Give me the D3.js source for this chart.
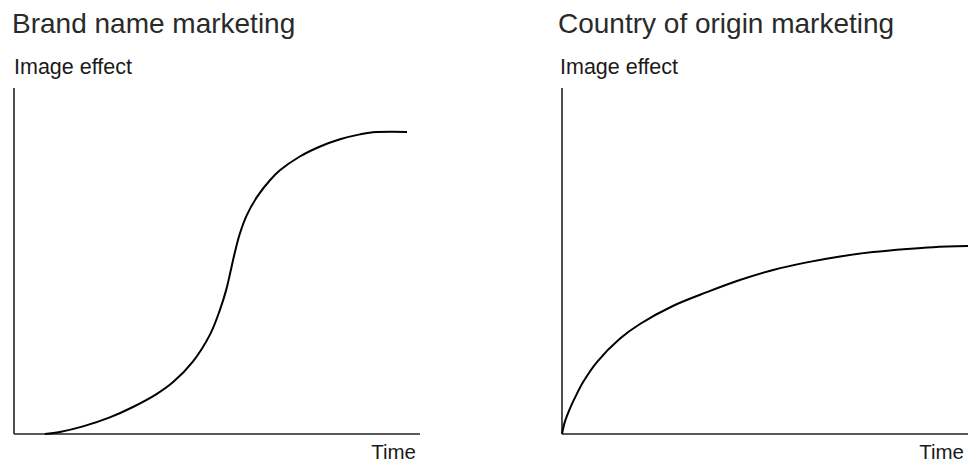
<!DOCTYPE html>
<html>
<head>
<meta charset="utf-8">
<script src="https://cdn.jsdelivr.net/npm/d3@7"></script>
<style>
  html, body { margin: 0; padding: 0; background: #fff; }
  svg { display: block; font-family: "Liberation Sans", Arial, Helvetica, sans-serif; }
</style>
</head>
<body>
<svg id="chart" width="968" height="464"></svg>
<script>
// Chart titles and labels
const titles = ["Brand name marketing", "Country of origin marketing"];
const yLabel = "Image effect";
const xLabel = "Time";

// Brand name marketing: S-curve (time 0-100, image effect 0-100)
const brandTime   = [7.6, 11.3, 17.0, 23.6, 29.3, 35.2, 39.2, 44.1, 48.3, 50.7, 52.3, 53.3, 54.3, 55.6, 57.4, 59.9, 63.1, 65.5, 70.4, 75.4, 80.3, 85.2, 88.4, 96.8];
const brandEffect = [0.0, 0.6, 2.2, 4.8, 7.8, 11.6, 15.0, 21.0, 28.8, 35.8, 41.8, 46.8, 52.0, 57.8, 63.4, 68.6, 73.4, 76.2, 80.2, 83.1, 85.2, 86.6, 87.2, 87.3];

// Country of origin marketing: concave curve
const countryTime   = [0, 0.7, 2.0, 3.2, 5.2, 8.6, 14.3, 19.2, 27.3, 35.7, 43.8, 52.0, 60.3, 68.5, 76.6, 85.0, 91.4, 100];
const countryEffect = [0, 3.5, 7.5, 10.5, 15.0, 20.8, 27.6, 31.8, 37.0, 41.0, 44.5, 47.4, 49.6, 51.3, 52.6, 53.5, 54.0, 54.3];

const svg = d3.select("#chart");

const panels = [
  { title: titles[0], t: brandTime, e: brandEffect, x0: 14, x1: 420, titleX: 12, labelX: 14, timeX: 416 },
  { title: titles[1], t: countryTime, e: countryEffect, x0: 562, x1: 968, titleX: 558, labelX: 560, timeX: 964 }
];

const yTop = 88, yBottom = 434;

panels.forEach(p => {
  const g = svg.append("g");
  const x = d3.scaleLinear().domain([0, 100]).range([p.x0, p.x1]);
  const y = d3.scaleLinear().domain([0, 100]).range([yBottom, yTop]);

  g.append("text").attr("x", p.titleX).attr("y", 33)
    .attr("font-size", 28).attr("fill", "#2a2a2a").text(p.title);
  g.append("text").attr("x", p.labelX).attr("y", 74)
    .attr("font-size", 21.5).attr("fill", "#1a1a1a").text(yLabel);
  g.append("text").attr("x", p.timeX).attr("y", 459).attr("text-anchor", "end")
    .attr("font-size", 20.5).attr("fill", "#1a1a1a").text(xLabel);

  // axes
  g.append("line").attr("x1", x(0)).attr("x2", x(0)).attr("y1", y(100)).attr("y2", y(0))
    .attr("stroke", "#222").attr("stroke-width", 1.6);
  g.append("line").attr("x1", x(0)).attr("x2", x(100)).attr("y1", y(0)).attr("y2", y(0))
    .attr("stroke", "#222").attr("stroke-width", 1.6);

  const pts = p.t.map((v, i) => [v, p.e[i]]);
  const line = d3.line().x(d => x(d[0])).y(d => y(d[1])).curve(d3.curveCatmullRom.alpha(0.5));
  g.append("path").datum(pts).attr("d", line)
    .attr("fill", "none").attr("stroke", "#000").attr("stroke-width", 2);
});
</script>
</body>
</html>
